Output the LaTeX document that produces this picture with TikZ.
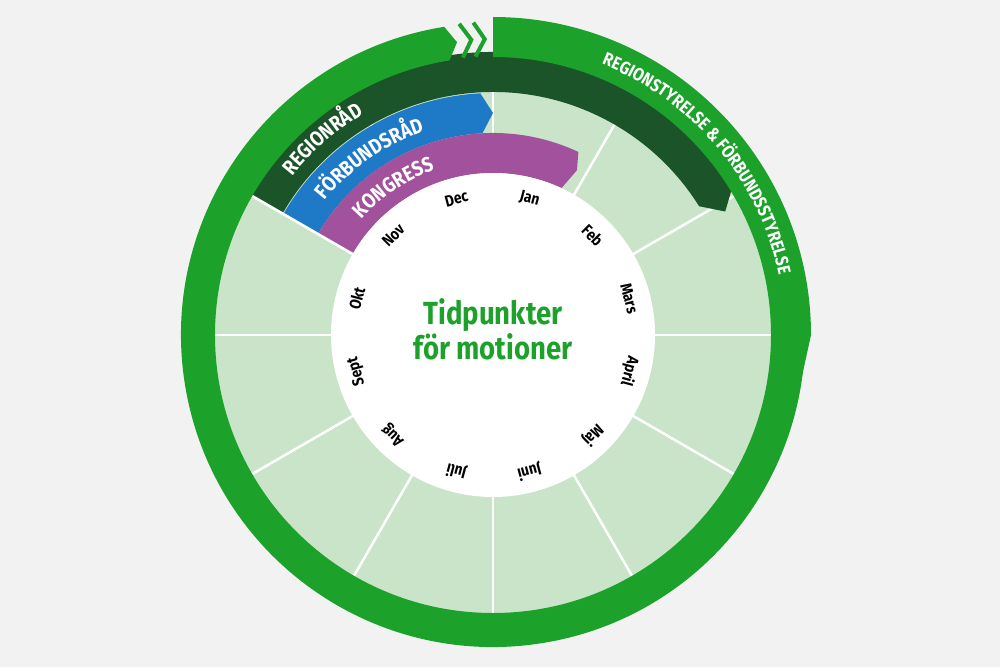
\documentclass[tikz,border=0pt]{standalone}
\usepackage{fontspec}
\setmainfont{Fira Sans}
\newfontfamily\cond[FakeStretch=0.86]{Fira Sans}
\usetikzlibrary{decorations.text}
\definecolor{bg}{HTML}{F2F2F2}
\definecolor{ring}{HTML}{1CA12B}
\definecolor{lgreen}{HTML}{C9E4C9}
\definecolor{dgreen}{HTML}{1B5429}
\definecolor{bblue}{HTML}{1E79C7}
\definecolor{bpurple}{HTML}{A2529C}
\tikzset{
 month/.style={font=\cond\bfseries\fontsize{16}{16}\selectfont, text=black},
 arctext/.style={decorate, decoration={text along path, text align=center, text color=white}},
}
\begin{document}
\begin{tikzpicture}[x=1pt,y=1pt]
\useasboundingbox[fill=bg] (-493,-332) rectangle (507,335);
% light sectors
\fill[lgreen] (0,0) circle (280);
\foreach \a in {0,30,...,330} \draw[white, line width=2.5] (\a:160) -- (\a:280);
% bands
\fill[dgreen] (150:243) arc[start angle=150,end angle=32,radius=243] -- (28:263) -- (32:283) arc[start angle=32,end angle=150,radius=283] -- cycle;
\fill[bblue] (150:202) arc[start angle=150,end angle=93,radius=202] -- (90:222) -- (93:242) arc[start angle=93,end angle=150,radius=242] -- cycle;
\fill[bpurple] (150:162) arc[start angle=150,end angle=65,radius=162] -- (63:185) -- (65:202) arc[start angle=65,end angle=150,radius=202] -- cycle;
\draw[white, line width=2.5] (150:160) -- (150:284);
% white centre
\fill[white] (0,0) circle (162);
% outer ring
\fill[ring] (99:312) arc[start angle=99,end angle=450,radius=312] -- (90:278) arc[start angle=450,end angle=99,radius=278] -- (97:295) -- cycle;
\fill[ring] (90:318) arc[start angle=90,end angle=0,radius=318] -- (-15:311) -- (-15:283) arc[start angle=-15,end angle=90,radius=283] -- cycle;
\draw[ring, line width=4] (96.2:313) -- (94.2:296) -- (96.2:279);
\draw[ring, line width=4] (93.6:313) -- (91.6:296) -- (93.6:279);
% band texts
\path[arctext, decoration={text={|\cond\bfseries\fontsize{21}{21}\selectfont|REGIONRÅD}}] (149:256) arc[start angle=149,end angle=113,radius=256];
\path[arctext, decoration={text={|\cond\bfseries\fontsize{21}{21}\selectfont|FÖRBUNDSRÅD}}] (150:215) arc[start angle=150,end angle=100,radius=215];
\path[arctext, decoration={text={|\cond\bfseries\fontsize{21}{21}\selectfont|KONGRESS}}] (149:175) arc[start angle=149,end angle=99,radius=175];
\path[arctext, decoration={text={|\cond\bfseries\fontsize{18}{18}\selectfont|REGIONSTYRELSE {\&} FÖRBUNDSSTYRELSE}}] (88:292) arc[start angle=88,end angle=-8,radius=292];
% months
\foreach \m [count=\i] in {Jan,Feb,Mars,April,Maj,Juni,Juli,Aug,Sept,Okt,Nov,Dec}{
  \pgfmathsetmacro\ang{90-30*\i+15}
  \node[month, rotate=\ang-90] (m\i) at (\ang:141) {\m};
}
\node[font=\cond\bfseries\fontsize{32}{35}\selectfont, text=ring, align=center] (title) at (0,6) {Tidpunkter\\för motioner};
\end{tikzpicture}
\end{document}
